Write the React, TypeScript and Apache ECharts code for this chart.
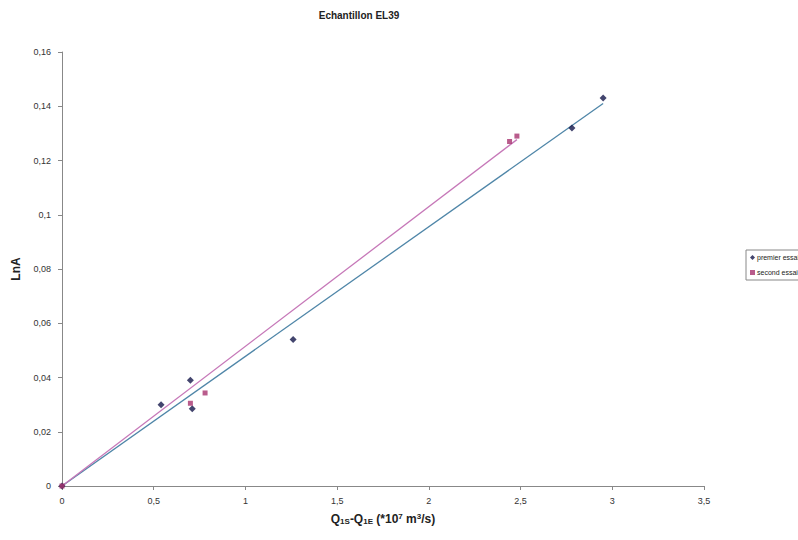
import React, { useEffect, useRef } from "react";
import * as echarts from "echarts";

const titleText = "Echantillon EL39";
const seriesNames = ["premier essai", "second essai"];
const premierX = [0, 0.54, 0.70, 0.71, 1.26, 2.78, 2.95];
const premierY = [0, 0.030, 0.039, 0.0285, 0.054, 0.132, 0.143];
const secondX = [0, 0.70, 0.78, 2.44, 2.48];
const secondY = [0, 0.0305, 0.0343, 0.127, 0.129];
// trend line end points (linear fit through origin)
const trendPremier = [[0, 0], [2.95, 0.141]];
const trendSecond = [[0, 0], [2.48, 0.1277]];
const xTicks = ["0", "0,5", "1", "1,5", "2", "2,5", "3", "3,5"];
const yTicks = ["0", "0,02", "0,04", "0,06", "0,08", "0,1", "0,12", "0,14", "0,16"];

const fmt = (v: number) => String(Math.round(v * 1000) / 1000).replace(".", ",");

export default function App() {
  const ref = useRef<HTMLDivElement>(null);
  useEffect(() => {
    if (!ref.current) return;
    const chart = echarts.init(ref.current, null, { renderer: "svg" });
    const font = "Arial, 'Liberation Sans', sans-serif";
    chart.setOption({
      animation: false,
      backgroundColor: "#ffffff",
      textStyle: { fontFamily: font },
      title: {
        text: titleText,
        left: 354,
        top: 5,
        textAlign: "center",
        textStyle: { fontSize: 10, fontWeight: "bold", color: "#222", fontFamily: font },
      },
      legend: {
        data: [
          { name: seriesNames[0], icon: "diamond" },
          { name: seriesNames[1], icon: "rect" },
        ],
        orient: "vertical",
        left: 746,
        top: 250,
        itemWidth: 5,
        itemHeight: 5,
        itemGap: 8,
        padding: [4, 6, 4, 4],
        borderColor: "#888",
        borderWidth: 1,
        textStyle: { fontSize: 7, color: "#222", fontFamily: font, padding: [0, 0, 0, -3] },
      },
      grid: { left: 62, right: 94, top: 52, bottom: 54 },
      xAxis: {
        type: "value",
        min: 0,
        max: 3.5,
        interval: 0.5,
        name: "Q{sub|1S}-Q{sub|1E} (*10{sup|7} m{sup|3}/s)",
        nameLocation: "middle",
        nameGap: 26,
        nameTextStyle: {
          fontSize: 12,
          fontWeight: "bold",
          color: "#222",
          fontFamily: font,
          rich: {
            sub: { fontSize: 8, fontWeight: "bold", color: "#222", padding: [5, 0, 0, 0] },
            sup: { fontSize: 8, fontWeight: "bold", color: "#222", padding: [0, 0, 6, 0] },
          },
        },
        splitLine: { show: false },
        axisLine: { lineStyle: { color: "#888", width: 1 } },
        axisTick: { show: true, length: 4, lineStyle: { color: "#888" } },
        axisLabel: {
          fontSize: 9,
          color: "#333",
          margin: 10,
          formatter: (v: number) => xTicks[Math.round(v / 0.5)] ?? fmt(v),
        },
      },
      yAxis: {
        type: "value",
        min: 0,
        max: 0.16,
        interval: 0.02,
        name: "LnA",
        nameLocation: "middle",
        nameGap: 40,
        nameRotate: 90,
        nameTextStyle: { fontSize: 12, fontWeight: "bold", color: "#222", fontFamily: font },
        splitLine: { show: false },
        axisLine: { show: true, lineStyle: { color: "#888", width: 1 } },
        axisTick: { show: true, length: 4, lineStyle: { color: "#888" } },
        axisLabel: {
          fontSize: 9,
          color: "#333",
          margin: 11,
          formatter: (v: number) => yTicks[Math.round(v / 0.02)] ?? fmt(v),
        },
      },
      series: [
        {
          name: seriesNames[0] + " tendance",
          type: "line",
          data: trendPremier,
          symbol: "none",
          lineStyle: { color: "#4f86a8", width: 1.3 },
          z: 1,
        },
        {
          name: seriesNames[1] + " tendance",
          type: "line",
          data: trendSecond,
          symbol: "none",
          lineStyle: { color: "#c678b8", width: 1.3 },
          z: 1,
        },
        {
          name: seriesNames[0],
          type: "scatter",
          symbol: "diamond",
          symbolSize: 7,
          itemStyle: { color: "#14164a" },
          data: premierX.map((x, i) => [x, premierY[i]]),
          z: 3,
        },
        {
          name: seriesNames[1],
          type: "scatter",
          symbol: "rect",
          symbolSize: 5,
          itemStyle: { color: "#a8336f" },
          data: secondX.map((x, i) => [x, secondY[i]]),
          z: 4,
        },
      ],
    });
    return () => chart.dispose();
  }, []);
  return <div ref={ref} style={{ width: 798, height: 540, position: "absolute", left: 0, top: 0 }} />;
}
